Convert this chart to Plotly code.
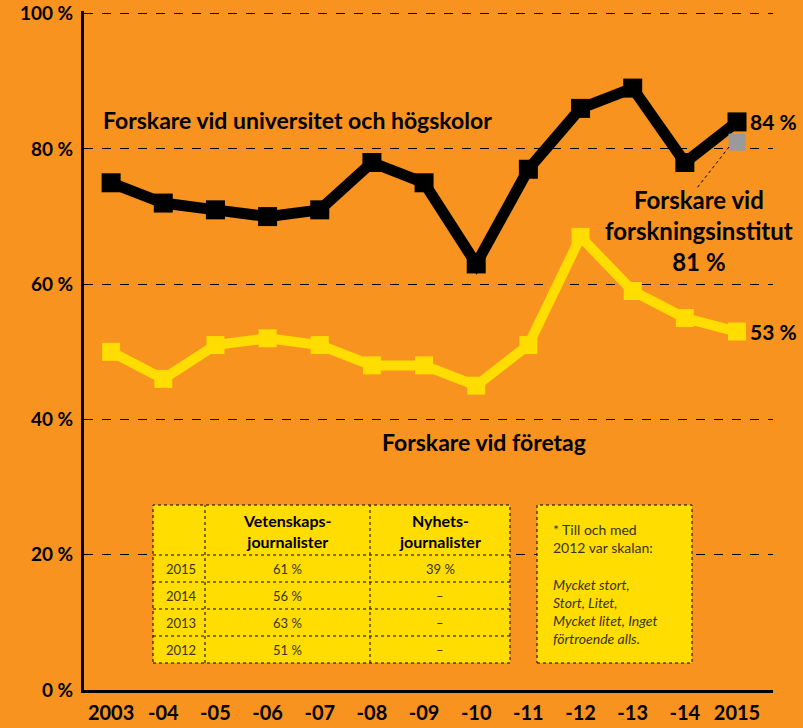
import plotly.graph_objects as go

years = ["2003", "-04", "-05", "-06", "-07", "-08", "-09", "-10", "-11", "-12", "-13", "-14", "2015"]
universitet = [75, 72, 71, 70, 71, 78, 75, 63, 77, 86, 89, 78, 84]
foretag = [50, 46, 51, 52, 51, 48, 48, 45, 51, 67, 59, 55, 53]
institut_year = ["2015"]
institut = [81]

y_ticks = [0, 20, 40, 60, 80, 100]
y_labels = ["0 %", "20 %", "40 %", "60 %", "80 %", "100 %"]

table_years = ["2015", "2014", "2013", "2012"]
vetenskap = ["61 %", "56 %", "63 %", "51 %"]
nyhets = ["39 %", "–", "–", "–"]

ORANGE = "#F7931E"
YELLOW = "#FFDD00"
W, H = 803, 728
L, R, T, B = 84, 30, 11, 38
PW, PH = W - L - R, H - T - B

def px(x):
    return (x - L) / PW

def py(y):
    return (H - B - y) / PH

xi = list(range(len(years)))

fig = go.Figure()
fig.add_trace(go.Scatter(x=xi, y=universitet, mode="lines+markers",
                         line=dict(color="black", width=11),
                         marker=dict(symbol="square", size=19, color="black"),
                         hoverinfo="skip", cliponaxis=False))
fig.add_trace(go.Scatter(x=xi, y=foretag, mode="lines+markers",
                         line=dict(color=YELLOW, width=10),
                         marker=dict(symbol="square", size=18, color=YELLOW),
                         hoverinfo="skip", cliponaxis=False))
fig.add_trace(go.Scatter(x=[years.index(y) for y in institut_year], y=institut, mode="markers",
                         marker=dict(symbol="square", size=17, color="#9A9A9A"),
                         hoverinfo="skip", cliponaxis=False))

shapes = []
annotations = []

# Table box
tx0, tx1, ty0, ty1 = 153, 510, 505, 663
col_x = [153, 205, 370, 510]
row_y = [505, 555, 582, 609, 636, 663]
shapes.append(dict(type="rect", xref="paper", yref="paper",
                   x0=px(tx0), x1=px(tx1), y0=py(ty1), y1=py(ty0),
                   fillcolor=YELLOW, line=dict(color="black", width=1, dash="dot"), layer="above"))
for cx in col_x[1:-1]:
    shapes.append(dict(type="line", xref="paper", yref="paper", x0=px(cx), x1=px(cx),
                       y0=py(ty1), y1=py(ty0), line=dict(color="black", width=1, dash="dot")))
for ry in row_y[1:-1]:
    shapes.append(dict(type="line", xref="paper", yref="paper", x0=px(tx0), x1=px(tx1),
                       y0=py(ry), y1=py(ry), line=dict(color="black", width=1, dash="dot")))

hdr_font = dict(family="Lato", size=16, color="black")
annotations.append(dict(xref="paper", yref="paper", x=px((col_x[1] + col_x[2]) / 2), y=py(531),
                        text="<b>Vetenskaps-<br>journalister</b>", showarrow=False, font=hdr_font,
                        xanchor="center", yanchor="middle"))
annotations.append(dict(xref="paper", yref="paper", x=px((col_x[2] + col_x[3]) / 2), y=py(531),
                        text="<b>Nyhets-<br>journalister</b>", showarrow=False, font=hdr_font,
                        xanchor="center", yanchor="middle"))
cell_font = dict(family="Lato", size=13, color="#3a3320")
for i, yr in enumerate(table_years):
    cy = (row_y[i + 1] + row_y[i + 2]) / 2
    annotations.append(dict(xref="paper", yref="paper", x=px(164), y=py(cy), text=yr,
                            showarrow=False, font=cell_font, xanchor="left", yanchor="middle"))
    annotations.append(dict(xref="paper", yref="paper", x=px((col_x[1] + col_x[2]) / 2), y=py(cy),
                            text=vetenskap[i], showarrow=False, font=cell_font,
                            xanchor="center", yanchor="middle"))
    annotations.append(dict(xref="paper", yref="paper", x=px((col_x[2] + col_x[3]) / 2), y=py(cy),
                            text=nyhets[i], showarrow=False, font=cell_font,
                            xanchor="center", yanchor="middle"))

# Note box
shapes.append(dict(type="rect", xref="paper", yref="paper",
                   x0=px(537), x1=px(692), y0=py(663), y1=py(505),
                   fillcolor=YELLOW, line=dict(color="black", width=1, dash="dot"), layer="above"))
annotations.append(dict(xref="paper", yref="paper", x=px(551), y=py(519),
                        text="* Till och med<br>2012 var skalan:<br><br><i>Mycket stort,<br>Stort, Litet,<br>Mycket litet, Inget<br>förtroende alls.</i>",
                        showarrow=False, align="left", xanchor="left", yanchor="top",
                        font=dict(family="Lato", size=14, color="#3a3320")))

# Leader line from gray marker
shapes.append(dict(type="line", xref="paper", yref="paper", x0=px(729), y0=py(147), x1=px(697), y1=py(188),
                   line=dict(color="black", width=1, dash="dot")))

lab_font = dict(family="Lato", size=23, color="black")
annotations.append(dict(xref="paper", yref="paper", x=px(297), y=py(120),
                        text="<b>Forskare vid universitet och högskolor</b>", showarrow=False,
                        font=lab_font, xanchor="center", yanchor="middle"))
annotations.append(dict(xref="paper", yref="paper", x=px(484), y=py(442),
                        text="<b>Forskare vid företag</b>", showarrow=False,
                        font=lab_font, xanchor="center", yanchor="middle"))
annotations.append(dict(xref="paper", yref="paper", x=px(699), y=py(231),
                        text="<b>Forskare vid<br>forskningsinstitut<br>81 %</b>", showarrow=False,
                        font=dict(family="Lato", size=24, color="black"), xanchor="center", yanchor="middle"))
annotations.append(dict(xref="x", yref="y", x=12, y=universitet[-1], xshift=11,
                        text="<b>84 %</b>", showarrow=False, font=dict(family="Lato", size=21, color="black"),
                        xanchor="left", yanchor="middle"))
annotations.append(dict(xref="x", yref="y", x=12, y=foretag[-1], xshift=11,
                        text="<b>53 %</b>", showarrow=False, font=dict(family="Lato", size=21, color="black"),
                        xanchor="left", yanchor="middle"))

fig.update_layout(
    width=W, height=H,
    margin=dict(l=L, r=R, t=T, b=B, pad=0, autoexpand=False),
    paper_bgcolor=ORANGE, plot_bgcolor=ORANGE,
    showlegend=False,
    shapes=shapes, annotations=annotations,
    font=dict(family="Lato"),
)
fig.update_xaxes(range=[-0.52, 12.69], tickmode="array", tickvals=xi, ticktext=years,
                 showgrid=False, zeroline=False, showline=True, linecolor="black", linewidth=3,
                 ticks="", tickfont=dict(family="Lato", size=20, color="black", weight="bold"),
                 ticklabelstandoff=3, fixedrange=True, automargin=False)
fig.update_yaxes(range=[0, 100.4], tickmode="array", tickvals=y_ticks, ticktext=y_labels,
                 showgrid=True, gridcolor="black", gridwidth=1, griddash="dash",
                 zeroline=False, showline=True, linecolor="black", linewidth=3,
                 ticks="", tickfont=dict(family="Lato", size=19, color="black", weight="bold"),
                 ticklabelstandoff=4, fixedrange=True, automargin=False)

fig.write_html("out.html", config={"displayModeBar": False},
               post_script="document.body.style.margin='0';document.body.style.overflow='hidden';")
